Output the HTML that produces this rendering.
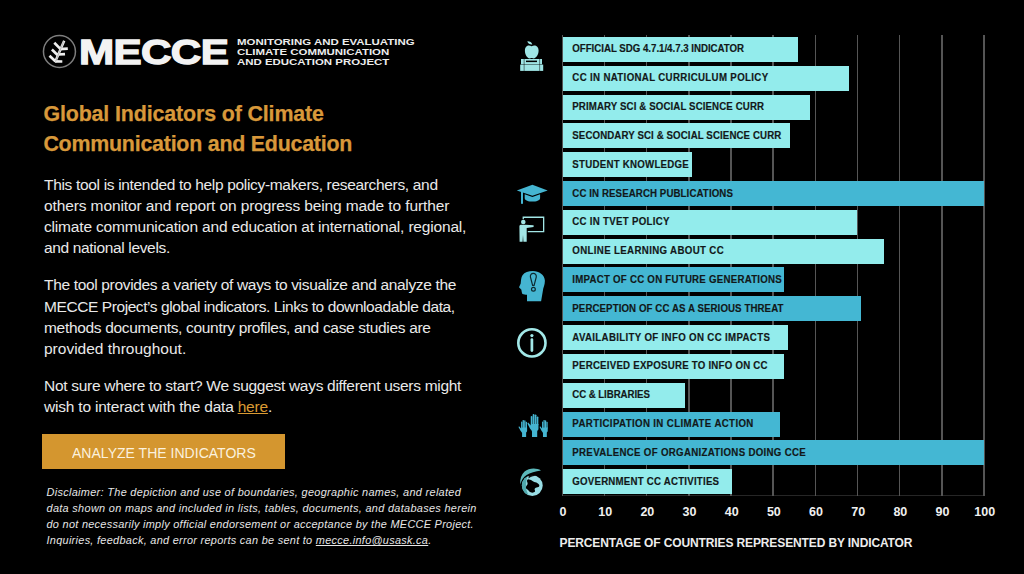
<!DOCTYPE html>
<html><head><meta charset="utf-8">
<style>
html,body{margin:0;padding:0;background:#000;}
body{width:1024px;height:574px;position:relative;overflow:hidden;font-family:"Liberation Sans",sans-serif;}
.abs{position:absolute;}
.t{position:absolute;white-space:nowrap;}
.logo-txt{position:absolute;left:80px;top:30px;color:#f2f2f2;font-weight:bold;font-size:37.8px;line-height:40px;letter-spacing:-1px;transform-origin:0 0;}
.btnbg{position:absolute;left:42px;top:434px;width:243px;height:35px;background:#d4962f;}
a{color:#d99a33;text-decoration:underline;}
.gl{position:absolute;top:35px;height:461px;width:1.5px;background:#555;}
.hax{position:absolute;left:562px;top:495px;width:423px;height:1px;background:#262626;}
.tk{position:absolute;top:505px;width:40px;text-align:center;color:#f0f0f0;font-weight:bold;font-size:12.5px;line-height:14px;}
.bar{position:absolute;height:25px;}
</style></head><body>
<svg class="abs" style="left:0;top:0" width="1024" height="574" viewBox="0 0 1024 574">
<circle cx="59.45" cy="51.5" r="16" fill="none" stroke="#7d7d7d" stroke-width="1.5"/>
<g stroke="#eeeeee" stroke-width="2.7" fill="none" stroke-linecap="butt" stroke-linejoin="miter">
<path d="M54.3 42.8 L60.1 48.6"/>
<path d="M51.9 49.6 L57.5 54.9"/>
<path d="M49.5 55.7 L55.4 61.2"/>
<path d="M59.4 49.1 L67.8 48.7"/>
<path d="M57.3 54.5 L65 54.1"/>
<path d="M55.2 61.3 L62.3 61.5"/>
<path d="M55 62.2 L64.2 40.8" stroke-width="2.5"/>
</g>
<path d="M55.6 61.5 L63.6 41.5" stroke="#000" stroke-width="0.45" opacity="0.55"/>
<g fill="#9fe5e5">
<path d="M527.3 41.2 Q531.2 41 532.3 44.4 Q528.4 44.6 527.3 41.2Z"/>
<path d="M531.6 46.3 C529 44.4 524.9 45.4 524.9 50.6 C524.9 55.2 527.6 58.4 529.5 58.4 C530.6 58.4 531 58 531.6 58 C532.2 58 532.6 58.4 533.7 58.4 C535.7 58.4 538.6 55.2 538.6 50.6 C538.6 45.4 534.2 44.4 531.6 46.3Z"/>
<rect x="521" y="59" width="21" height="5.3"/>
<rect x="520.2" y="64.6" width="23" height="6.3"/>
</g>
<g fill="#000">
<rect x="526" y="60.6" width="11" height="1.5"/>
<rect x="523.7" y="59" width="0.8" height="11.9" opacity="0.6"/>
<rect x="539.3" y="59" width="0.8" height="11.9" opacity="0.6"/>
</g>
<g fill="#45b5d1">
<path d="M516.8 190.4 L532.4 184.8 L547.7 190.4 L532.4 195.8Z"/>
<path d="M524.7 194.3 L532.4 197 L540.1 194.3 L540.1 198 C540.1 200.6 536 201.6 532.4 201.6 C528.8 201.6 524.7 200.6 524.7 198Z"/>
<rect x="521" y="191.5" width="2" height="12.3"/>
</g>
<g fill="#a2e6e6">
<path d="M522.6 219.2 L522.6 216.6 L544.3 216.6 L544.3 232.3 L527.8 232.3 L527.8 231 L543 231 L543 217.9 L523.9 217.9 L523.9 219.2Z"/>
<circle cx="523.3" cy="222" r="2.3"/>
<path d="M519.4 226.3 C519.4 225.3 520.2 224.8 521.2 224.8 L525.4 224.8 L533.6 225.3 L533.6 226.9 L526.7 227.9 L526.7 241.8 L523.4 241.8 L523 235 L522.6 241.8 L519.6 241.8Z"/>
</g>
<path fill="#45b5d1" d="M532.9 271 C538.8 271 544.9 274.8 544.9 280.8 C544.9 285 543.2 287.6 542.8 291.2 L541.1 301.3 L527 301.3 L527 294.7 C525.6 294.7 523.5 294.6 522.5 294 C521.8 293.2 521.6 291.2 521.4 289.8 L519 287.2 L520.7 283.6 C521 280 521.1 277.4 522.5 275.2 C524.5 272.3 528.5 271 532.9 271Z"/>
<g fill="none" stroke="#0d2a30" stroke-width="1.2">
<path d="M533.3 273.4 C531.4 273.4 530.1 274.8 530.4 277 L532.6 285.3 L534.1 285.3 L536.3 277 C536.5 274.8 535.2 273.4 533.3 273.4Z"/>
<circle cx="533.4" cy="289.3" r="1.9"/>
</g>
<g fill="none" stroke="#a2e8e8">
<circle cx="531.9" cy="342.9" r="13.6" stroke-width="2.6"/>
<path d="M531.9 339.6 L531.9 350.6" stroke-width="2.7" stroke-linecap="round"/>
</g>
<circle cx="531.9" cy="335.6" r="1.6" fill="#a2e8e8"/>
<defs>
<g id="hand">
<rect x="-3.85" y="2" width="1.7" height="9" rx="0.8"/>
<rect x="-1.9" y="0" width="1.7" height="11" rx="0.8"/>
<rect x="0.1" y="0.5" width="1.7" height="11" rx="0.8"/>
<rect x="2.05" y="2.5" width="1.7" height="9" rx="0.8"/>
<path d="M-3.85 10 L3.85 10 L3.85 15 C3.85 16 2.6 16.5 2.6 17.5 L2.6 23 L-2.6 23 L-2.6 17.5 C-3 16.5 -3.5 16 -4.6 14.6 L-7.2 9.4 L-6.4 8.6 L-3.85 11.5Z"/>
</g>
</defs>
<g fill="#45b5d1">
<use href="#hand" transform="translate(534.6 414) scale(1 1)"/>
<use href="#hand" transform="translate(524.1 420) scale(0.78 0.74)"/>
<use href="#hand" transform="translate(544.9 420) scale(0.74 0.74)"/>
</g>
<circle cx="532.3" cy="485.6" r="10.4" fill="#98dde4"/>
<path fill="#4fa9ad" d="M527.5 476.3 C523.5 478.5 521.9 482 521.9 485.6 C521.9 489.8 524.5 493.5 528.6 495.2 C527 492 526 489.5 526 486.5 C526 483 526.5 479.5 527.5 476.3Z"/>
<path fill="#000" d="M528.2 479.2 C529.5 479.4 530.8 479.6 531.8 480.6 C532.6 481.4 534 482 535.2 482.3 C536.8 482.6 538.5 483.6 539.3 485 C539.4 486.4 538.8 487.2 537.6 487.3 C536.2 487.4 535.2 487.9 534.6 489 C534.5 490 535.3 490.8 535 491.6 C534.2 492.6 532.8 493 531.2 492.6 C529.8 492.2 528.8 490.8 527.8 489.8 C526.8 488.8 525.8 488.4 525.9 487.4 C526.1 486 526.8 485.4 527.4 484.4 C528 483.4 527.2 482.2 527 481.2 C526.9 480.2 527.4 479.3 528.2 479.2Z"/>
<path fill="#000" d="M528.6 475.2 C531 474.4 534 474.8 536 475.8 C533.5 476.2 530.5 476.8 528.6 478.5Z" opacity="0.9"/>
<path fill="#5cb9bb" d="M541 470.4 C536.5 467.6 529 467.6 524.6 471.6 C521.4 474.6 519.8 478.8 520.2 484.6 C521.2 480.6 523.4 477.2 526.6 475 C530 472.6 535.5 471 541 470.4Z"/>
</svg>
<div class="btnbg"></div>
<div class="hax"></div>
<div class="gl" style="left:561.55px"></div>
<div class="tk" style="left:543.00px">0</div>
<div class="gl" style="left:603.72px"></div>
<div class="tk" style="left:585.17px">10</div>
<div class="gl" style="left:645.89px"></div>
<div class="tk" style="left:627.34px">20</div>
<div class="gl" style="left:688.06px"></div>
<div class="tk" style="left:669.51px">30</div>
<div class="gl" style="left:730.23px"></div>
<div class="tk" style="left:711.68px">40</div>
<div class="gl" style="left:772.40px"></div>
<div class="tk" style="left:753.85px">50</div>
<div class="gl" style="left:814.57px"></div>
<div class="tk" style="left:796.02px">60</div>
<div class="gl" style="left:856.74px"></div>
<div class="tk" style="left:838.19px">70</div>
<div class="gl" style="left:898.91px"></div>
<div class="tk" style="left:880.36px">80</div>
<div class="gl" style="left:941.08px"></div>
<div class="tk" style="left:922.53px">90</div>
<div class="gl" style="left:983.25px"></div>
<div class="tk" style="left:964.70px">100</div>
<div class="bar" style="left:563.00px;top:36.90px;width:235.45px;background:#93ecec"></div>
<div class="bar" style="left:563.00px;top:65.72px;width:285.63px;background:#93ecec"></div>
<div class="bar" style="left:563.00px;top:94.54px;width:246.84px;background:#93ecec"></div>
<div class="bar" style="left:563.00px;top:123.36px;width:227.44px;background:#93ecec"></div>
<div class="bar" style="left:563.00px;top:152.18px;width:128.76px;background:#93ecec"></div>
<div class="bar" style="left:563.00px;top:181.00px;width:421.00px;background:#44b7d3"></div>
<div class="bar" style="left:563.00px;top:209.82px;width:294.07px;background:#93ecec"></div>
<div class="bar" style="left:563.00px;top:238.64px;width:321.48px;background:#93ecec"></div>
<div class="bar" style="left:563.00px;top:267.46px;width:220.69px;background:#44b7d3"></div>
<div class="bar" style="left:563.00px;top:296.28px;width:298.29px;background:#44b7d3"></div>
<div class="bar" style="left:563.00px;top:325.10px;width:224.91px;background:#93ecec"></div>
<div class="bar" style="left:563.00px;top:353.92px;width:221.11px;background:#93ecec"></div>
<div class="bar" style="left:563.00px;top:382.74px;width:122.44px;background:#93ecec"></div>
<div class="bar" style="left:563.00px;top:411.56px;width:216.90px;background:#44b7d3"></div>
<div class="bar" style="left:563.00px;top:440.38px;width:421.00px;background:#44b7d3"></div>
<div class="bar" style="left:563.00px;top:469.20px;width:169.25px;background:#93ecec"></div>
<div class="t" id="h1a" style="left:43.40px;top:98.78px;font-size:21.4px;line-height:30px;letter-spacing:-0.130px;font-weight:bold;color:#d8983a;-webkit-text-stroke:0.25px #d8983a;">Global Indicators of Climate</div>
<div class="t" id="h1b" style="left:43.40px;top:128.58px;font-size:21.4px;line-height:30px;letter-spacing:-0.231px;font-weight:bold;color:#d8983a;-webkit-text-stroke:0.25px #d8983a;">Communication and Education</div>
<div class="t" id="p1a" style="left:44.00px;top:174.33px;font-size:15.5px;line-height:22px;letter-spacing:-0.325px;color:#e9e9e9;">This tool is intended to help policy-makers, researchers, and</div>
<div class="t" id="p1b" style="left:44.00px;top:195.43px;font-size:15.5px;line-height:22px;letter-spacing:-0.112px;color:#e9e9e9;">others monitor and report on progress being made to further</div>
<div class="t" id="p1c" style="left:44.00px;top:216.33px;font-size:15.5px;line-height:22px;letter-spacing:-0.177px;color:#e9e9e9;">climate communication and education at international, regional,</div>
<div class="t" id="p1d" style="left:44.00px;top:237.33px;font-size:15.5px;line-height:22px;letter-spacing:-0.342px;color:#e9e9e9;">and national levels.</div>
<div class="t" id="p2a" style="left:44.00px;top:274.33px;font-size:15.5px;line-height:22px;letter-spacing:-0.333px;color:#e9e9e9;">The tool provides a variety of ways to visualize and analyze the</div>
<div class="t" id="p2b" style="left:44.00px;top:295.53px;font-size:15.5px;line-height:22px;letter-spacing:-0.418px;color:#e9e9e9;">MECCE Project’s global indicators. Links to downloadable data,</div>
<div class="t" id="p2c" style="left:44.00px;top:317.13px;font-size:15.5px;line-height:22px;letter-spacing:-0.321px;color:#e9e9e9;">methods documents, country profiles, and case studies are</div>
<div class="t" id="p2d" style="left:44.00px;top:338.03px;font-size:15.5px;line-height:22px;letter-spacing:-0.000px;color:#e9e9e9;">provided throughout.</div>
<div class="t" id="p3a" style="left:44.00px;top:374.93px;font-size:15.5px;line-height:22px;letter-spacing:-0.295px;color:#e9e9e9;">Not sure where to start? We suggest ways different users might</div>
<div class="t" id="p3b" style="left:44.00px;top:395.93px;font-size:15.5px;line-height:22px;letter-spacing:-0.200px;color:#e9e9e9;">wish to interact with the data <a>here</a>.</div>
<div class="t" id="d1" style="left:46.50px;top:484.82px;font-size:10.9px;line-height:15px;letter-spacing:0.325px;color:#e6e6e6;font-style:italic;">Disclaimer: The depiction and use of boundaries, geographic names, and related</div>
<div class="t" id="d2" style="left:46.50px;top:500.92px;font-size:10.9px;line-height:15px;letter-spacing:0.325px;color:#e6e6e6;font-style:italic;">data shown on maps and included in lists, tables, documents, and databases herein</div>
<div class="t" id="d3" style="left:46.50px;top:517.02px;font-size:10.9px;line-height:15px;letter-spacing:0.300px;color:#e6e6e6;font-style:italic;">do not necessarily imply official endorsement or acceptance by the MECCE Project.</div>
<div class="t" id="d4" style="left:46.50px;top:533.12px;font-size:10.9px;line-height:15px;letter-spacing:0.301px;color:#e6e6e6;font-style:italic;">Inquiries, feedback, and error reports can be sent to <u>mecce.info@usask.ca</u>.</div>
<div class="t" id="btn" style="left:72.00px;top:441.93px;font-size:15.2px;line-height:21px;transform:scaleX(0.9243);transform-origin:0 0;color:#fbf1de;">ANALYZE THE INDICATORS</div>
<div class="t" id="axt" style="left:559.50px;top:535.04px;font-size:12.0px;line-height:17px;letter-spacing:-0.117px;font-weight:bold;color:#ededed;">PERCENTAGE OF COUNTRIES REPRESENTED BY INDICATOR</div>
<div class="t" id="logo" style="left:78.90px;top:26.99px;font-size:35.8px;line-height:50px;transform:scaleX(1.1810);transform-origin:0 0;font-weight:bold;color:#f3f3f3;letter-spacing:-0.6px;-webkit-text-stroke:1.3px #f3f3f3;">MECCE</div>
<div class="t" id="tg1" style="left:237.00px;top:35.09px;font-size:9.4px;line-height:13px;transform:scaleX(1.2207);transform-origin:0 0;font-weight:bold;color:#ececec;">MONITORING AND EVALUATING</div>
<div class="t" id="tg2" style="left:237.00px;top:45.14px;font-size:9.4px;line-height:13px;transform:scaleX(1.2218);transform-origin:0 0;font-weight:bold;color:#ececec;">CLIMATE COMMUNICATION</div>
<div class="t" id="tg3" style="left:237.00px;top:55.04px;font-size:9.4px;line-height:13px;transform:scaleX(1.2200);transform-origin:0 0;font-weight:bold;color:#ececec;">AND EDUCATION PROJECT</div>
<div class="t" id="b0" style="left:572.30px;top:42.44px;font-size:9.7px;line-height:14px;letter-spacing:-0.015px;transform:scaleY(1.1);transform-origin:0 10.36px;font-weight:bold;color:#121819;-webkit-text-stroke:0.15px #121819;">OFFICIAL SDG 4.7.1/4.7.3 INDICATOR</div>
<div class="t" id="b1" style="left:572.30px;top:71.26px;font-size:9.7px;line-height:14px;letter-spacing:0.339px;transform:scaleY(1.1);transform-origin:0 10.36px;font-weight:bold;color:#121819;-webkit-text-stroke:0.15px #121819;">CC IN NATIONAL CURRICULUM POLICY</div>
<div class="t" id="b2" style="left:572.30px;top:100.08px;font-size:9.7px;line-height:14px;letter-spacing:0.109px;transform:scaleY(1.1);transform-origin:0 10.36px;font-weight:bold;color:#121819;-webkit-text-stroke:0.15px #121819;">PRIMARY SCI &amp; SOCIAL SCIENCE CURR</div>
<div class="t" id="b3" style="left:572.30px;top:128.90px;font-size:9.7px;line-height:14px;letter-spacing:0.103px;transform:scaleY(1.1);transform-origin:0 10.36px;font-weight:bold;color:#121819;-webkit-text-stroke:0.15px #121819;">SECONDARY SCI &amp; SOCIAL SCIENCE CURR</div>
<div class="t" id="b4" style="left:572.30px;top:157.72px;font-size:9.7px;line-height:14px;letter-spacing:0.250px;transform:scaleY(1.1);transform-origin:0 10.36px;font-weight:bold;color:#121819;-webkit-text-stroke:0.15px #121819;">STUDENT KNOWLEDGE</div>
<div class="t" id="b5" style="left:572.30px;top:186.54px;font-size:9.7px;line-height:14px;letter-spacing:0.096px;transform:scaleY(1.1);transform-origin:0 10.36px;font-weight:bold;color:#121819;-webkit-text-stroke:0.15px #121819;">CC IN RESEARCH PUBLICATIONS</div>
<div class="t" id="b6" style="left:572.30px;top:215.36px;font-size:9.7px;line-height:14px;letter-spacing:0.281px;transform:scaleY(1.1);transform-origin:0 10.36px;font-weight:bold;color:#121819;-webkit-text-stroke:0.15px #121819;">CC IN TVET POLICY</div>
<div class="t" id="b7" style="left:572.30px;top:244.18px;font-size:9.7px;line-height:14px;letter-spacing:0.348px;transform:scaleY(1.1);transform-origin:0 10.36px;font-weight:bold;color:#121819;-webkit-text-stroke:0.15px #121819;">ONLINE LEARNING ABOUT CC</div>
<div class="t" id="b8" style="left:572.30px;top:273.00px;font-size:9.7px;line-height:14px;letter-spacing:0.242px;transform:scaleY(1.1);transform-origin:0 10.36px;font-weight:bold;color:#121819;-webkit-text-stroke:0.15px #121819;">IMPACT OF CC ON FUTURE GENERATIONS</div>
<div class="t" id="b9" style="left:572.30px;top:301.82px;font-size:9.7px;line-height:14px;letter-spacing:0.086px;transform:scaleY(1.1);transform-origin:0 10.36px;font-weight:bold;color:#121819;-webkit-text-stroke:0.15px #121819;">PERCEPTION OF CC AS A SERIOUS THREAT</div>
<div class="t" id="b10" style="left:572.30px;top:330.64px;font-size:9.7px;line-height:14px;letter-spacing:0.333px;transform:scaleY(1.1);transform-origin:0 10.36px;font-weight:bold;color:#121819;-webkit-text-stroke:0.15px #121819;">AVAILABILITY OF INFO ON CC IMPACTS</div>
<div class="t" id="b11" style="left:572.30px;top:359.46px;font-size:9.7px;line-height:14px;letter-spacing:0.226px;transform:scaleY(1.1);transform-origin:0 10.36px;font-weight:bold;color:#121819;-webkit-text-stroke:0.15px #121819;">PERCEIVED EXPOSURE TO INFO ON CC</div>
<div class="t" id="b12" style="left:572.30px;top:388.28px;font-size:9.7px;line-height:14px;letter-spacing:-0.077px;transform:scaleY(1.1);transform-origin:0 10.36px;font-weight:bold;color:#121819;-webkit-text-stroke:0.15px #121819;">CC &amp; LIBRARIES</div>
<div class="t" id="b13" style="left:572.30px;top:417.10px;font-size:9.7px;line-height:14px;letter-spacing:0.367px;transform:scaleY(1.1);transform-origin:0 10.36px;font-weight:bold;color:#121819;-webkit-text-stroke:0.15px #121819;">PARTICIPATION IN CLIMATE ACTION</div>
<div class="t" id="b14" style="left:572.30px;top:445.92px;font-size:9.7px;line-height:14px;letter-spacing:0.306px;transform:scaleY(1.1);transform-origin:0 10.36px;font-weight:bold;color:#121819;-webkit-text-stroke:0.15px #121819;">PREVALENCE OF ORGANIZATIONS DOING CCE</div>
<div class="t" id="b15" style="left:572.30px;top:474.74px;font-size:9.7px;line-height:14px;letter-spacing:0.217px;transform:scaleY(1.1);transform-origin:0 10.36px;font-weight:bold;color:#121819;-webkit-text-stroke:0.15px #121819;">GOVERNMENT CC ACTIVITIES</div>
</body></html>
